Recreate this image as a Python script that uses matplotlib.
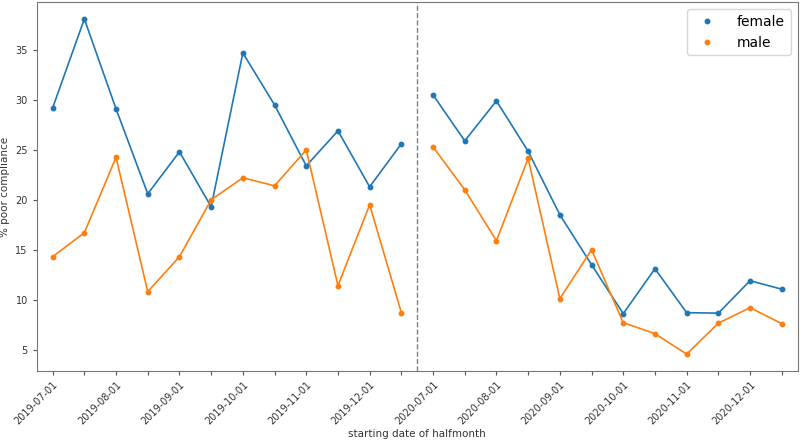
import matplotlib.pyplot as plt
import numpy as np

# halfmonth start dates (2019 and 2020, Jul-Dec)
dates = ['2019-07-01', '2019-07-16', '2019-08-01', '2019-08-16', '2019-09-01', '2019-09-16',
         '2019-10-01', '2019-10-16', '2019-11-01', '2019-11-16', '2019-12-01', '2019-12-16',
         '2020-07-01', '2020-07-16', '2020-08-01', '2020-08-16', '2020-09-01', '2020-09-16',
         '2020-10-01', '2020-10-16', '2020-11-01', '2020-11-16', '2020-12-01', '2020-12-16']

female_2019 = [29.2, 38.1, 29.1, 20.6, 24.8, 19.3, 34.7, 29.5, 23.4, 26.9, 21.3, 25.6]
male_2019 = [14.3, 16.7, 24.25, 10.8, 14.3, 20.0, 22.2, 21.4, 25.0, 11.4, 19.5, 8.7]
female_2020 = [30.5, 25.9, 29.9, 24.85, 18.5, 13.5, 8.6, 13.1, 8.7, 8.65, 11.9, 11.05]
male_2020 = [25.3, 21.0, 15.9, 24.15, 10.1, 15.0, 7.7, 6.6, 4.55, 7.65, 9.2, 7.6]

x19 = np.arange(len(female_2019))
x20 = np.arange(len(female_2020)) + len(female_2019)

fig, ax = plt.subplots(figsize=(8, 4.41), dpi=100)

ax.plot(x19, female_2019, color='C0', lw=1.2)
ax.plot(x20, female_2020, color='C0', lw=1.2)
ax.plot(x19, male_2019, color='C1', lw=1.2)
ax.plot(x20, male_2020, color='C1', lw=1.2)
ax.plot(np.concatenate([x19, x20]), female_2019 + female_2020, 'o', color='C0', ms=3.2, label='female')
ax.plot(np.concatenate([x19, x20]), male_2019 + male_2020, 'o', color='C1', ms=3.2, label='male')

ax.axvline(len(female_2019) - 0.5, color='gray', ls='--', lw=1)

ax.set_xlim(-0.5, len(dates) - 0.5)
ax.set_xticks(np.arange(len(dates)))
ax.set_xticklabels([d if i % 2 == 0 else '' for i, d in enumerate(dates)],
                   rotation=45, ha='right', rotation_mode='anchor', fontsize=7, color='#333333')
ax.tick_params(axis='y', labelsize=7, labelcolor='#333333')
ax.tick_params(color='#555555', length=3)
for s in ax.spines.values():
    s.set_color('#777777')

ax.set_xlabel('starting date of halfmonth', fontsize=7.5, color='#333333')
ax.xaxis.set_label_coords(0.5, -0.158)
ax.set_ylabel('% poor compliance', fontsize=7.5, color='#333333')
ax.legend(loc='upper right', fontsize=10, handletextpad=1.2)

fig.subplots_adjust(left=0.046, right=0.997, top=0.995, bottom=0.159)
fig.savefig('out.png')
